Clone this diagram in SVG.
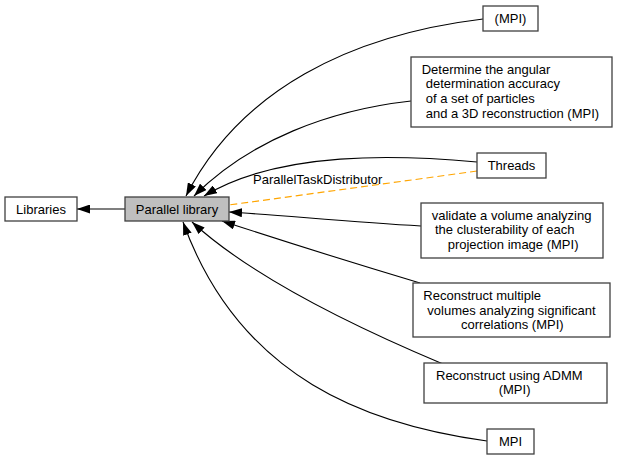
<svg xmlns="http://www.w3.org/2000/svg" width="617" height="461" viewBox="0 0 617 461">
<style>
.box{fill:#fff;stroke:#404040;stroke-width:1.3}
.cur{fill:#bfbfbf;stroke:#404040;stroke-width:1.3}
text{font-family:"Liberation Sans",Arial,sans-serif;font-size:13px;fill:#000}
.c{text-anchor:middle}
.e{fill:none;stroke:#000;stroke-width:1.1}
.d{fill:none;stroke:#ffa500;stroke-width:1.1;stroke-dasharray:7,4}
</style>
<defs>
<marker id="ah" viewBox="0 0 13 9" refX="13" refY="4.5" markerWidth="13" markerHeight="9" markerUnits="userSpaceOnUse" orient="auto">
<path d="M0,0 L13,4.5 L0,9 Z" fill="#000"/>
</marker>
</defs>
<rect width="617" height="461" fill="#fff"/>
<g id="edges">
<path class="e" d="M125,209 L77,209" marker-end="url(#ah)"/>
<path class="e" d="M483,19 C350,35 240,90 186,196" marker-end="url(#ah)"/>
<path class="e" d="M411,101 C330,110 250,140 194,196" marker-end="url(#ah)"/>
<path class="e" d="M477,162 C400,155 280,150 204,196" marker-end="url(#ah)"/>
<path class="d" d="M477,171 L229,205"/>
<text x="253" y="184">ParallelTaskDistributor</text>
<path class="e" d="M421,226 C350,222 280,215 229,212" marker-end="url(#ah)"/>
<path class="e" d="M420,283 C350,262 280,240 222,221" marker-end="url(#ah)"/>
<path class="e" d="M443,364 C350,325 250,275 192,222" marker-end="url(#ah)"/>
<path class="e" d="M487,441 C370,425 240,380 183,222" marker-end="url(#ah)"/>
</g>
<g id="libraries">
<rect class="box" x="5" y="197" width="72" height="24"/>
<text class="c" x="41" y="213.5">Libraries</text>
</g>
<g id="parallel">
<rect class="cur" x="125" y="197" width="104" height="24"/>
<text class="c" x="177" y="213.5">Parallel library</text>
</g>
<g id="mpi_paren">
<rect class="box" x="483" y="6" width="55" height="25"/>
<text class="c" x="510.5" y="23">(MPI)</text>
</g>
<g id="angular">
<rect class="box" x="411" y="57" width="201" height="70"/>
<text x="421.7" y="73.5">Determine the angular</text>
<text x="425.7" y="88">determination accuracy</text>
<text x="425.7" y="103">of a set of particles</text>
<text x="425.7" y="117.5">and a 3D reconstruction (MPI)</text>
</g>
<g id="threads">
<rect class="box" x="477" y="153" width="69" height="25"/>
<text class="c" x="511.5" y="170">Threads</text>
</g>
<g id="validate">
<rect class="box" x="421" y="203" width="182" height="55"/>
<text x="431.7" y="219.5">validate a volume analyzing</text>
<text x="435" y="234">the clusterability of each</text>
<text x="447.7" y="248.5">projection image (MPI)</text>
</g>
<g id="multiple">
<rect class="box" x="413" y="283" width="197" height="54"/>
<text x="423.3" y="300">Reconstruct multiple</text>
<text x="427.3" y="314.5">volumes analyzing significant</text>
<text x="461" y="329">correlations (MPI)</text>
</g>
<g id="admm">
<rect class="box" x="424" y="363" width="183" height="40"/>
<text x="436" y="379.5">Reconstruct using ADMM</text>
<text x="498.7" y="394">(MPI)</text>
</g>
<g id="mpi">
<rect class="box" x="487" y="429" width="47" height="25"/>
<text class="c" x="510.5" y="446">MPI</text>
</g>
</svg>
